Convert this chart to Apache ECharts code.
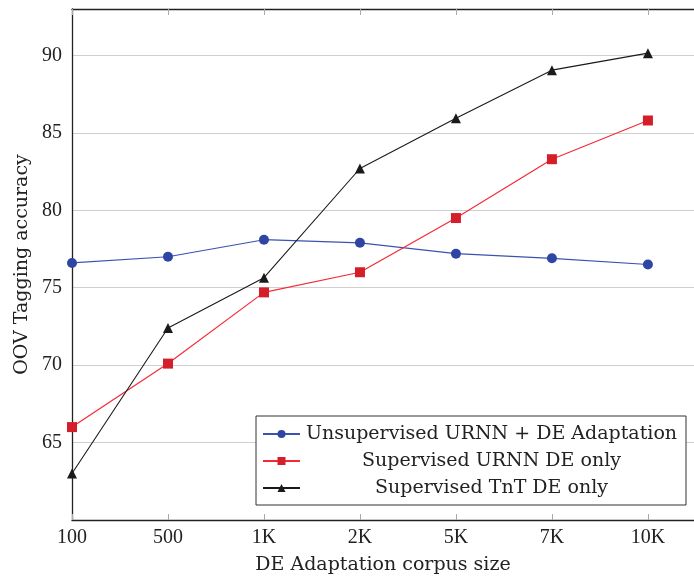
<!DOCTYPE html>
<html>
<head>
<meta charset="utf-8">
<script src="https://cdn.jsdelivr.net/npm/echarts@6/dist/echarts.min.js"></script>
<style>
  html, body { margin: 0; padding: 0; background: #fff; }
  #chart { width: 694px; height: 577px; }
</style>
</head>
<body>
<div id="chart"></div>
<script>
// corpus sizes on the x axis
var corpusSizes = ['100', '500', '1K', '2K', '5K', '7K', '10K'];

// OOV tagging accuracy for each setup
var unsupervisedURNN = [76.6, 77.0, 78.1, 77.9, 77.2, 76.9, 76.5];
var supervisedURNN = [66.0, 70.1, 74.7, 76.0, 79.5, 83.3, 85.8];
var supervisedTnT = [63.0, 72.4, 75.65, 82.7, 85.95, 89.05, 90.15];

var seriesNames = [
    'Unsupervised URNN + DE Adaptation',
    'Supervised URNN DE only',
    'Supervised TnT DE only'
];

function toPoints(vals) {
    return vals.map(function (v, i) { return [i, v]; });
}

var serif = '"Liberation Serif", serif';
var wideSerif = '"DejaVu Serif", serif';

var myChart = echarts.init(document.getElementById('chart'));

var option = {
    backgroundColor: '#fff',
    animation: false,
    grid: { left: 72, top: 9, right: 0, bottom: 57, outerBoundsMode: 'none' },
    legend: {
        orient: 'vertical',
        left: 256,
        top: 416,
        padding: [8, 8, 7, 6],
        itemGap: 7,
        itemWidth: 37,
        itemHeight: 10,
        borderColor: '#333',
        borderWidth: 1,
        backgroundColor: '#fff',
        data: seriesNames,
        formatter: function (name) { return '{t|' + name + '}'; },
        textStyle: {
            rich: {
                t: {
                    fontFamily: wideSerif,
                    fontSize: 19,
                    color: '#222',
                    width: 373,
                    align: 'center',
                    height: 20,
                    lineHeight: 20
                }
            }
        }
    },
    xAxis: [{
        type: 'value',
        min: 0,
        max: 6.48,
        interval: 1,
        name: 'DE Adaptation corpus size',
        nameLocation: 'middle',
        nameGap: 36,
        nameTextStyle: { fontFamily: wideSerif, fontSize: 19, color: '#222' },
        axisLine: { lineStyle: { color: '#222', width: 1.3 } },
        axisTick: { inside: true, length: 6, lineStyle: { color: '#aaa' } },
        axisLabel: {
            fontFamily: serif,
            fontSize: 20,
            color: '#222',
            margin: 8,
            showMaxLabel: false,
            formatter: function (v) {
                return corpusSizes[v] !== undefined && v === Math.round(v) ? corpusSizes[v] : '';
            }
        },
        splitLine: { show: false }
    }, {
        type: 'value',
        position: 'top',
        min: 0,
        max: 6.48,
        interval: 1,
        axisLine: { lineStyle: { color: '#222', width: 1.3 } },
        axisTick: { inside: true, length: 6, lineStyle: { color: '#aaa' } },
        axisLabel: { show: false },
        splitLine: { show: false }
    }],
    yAxis: {
        type: 'value',
        min: 60,
        max: 93,
        interval: 5,
        name: 'OOV Tagging accuracy',
        nameLocation: 'middle',
        nameGap: 40,
        nameTextStyle: { fontFamily: wideSerif, fontSize: 19, color: '#222' },
        axisLine: { show: true, lineStyle: { color: '#222', width: 1.3 } },
        axisTick: { show: false },
        axisLabel: {
            fontFamily: serif,
            fontSize: 20,
            color: '#222',
            margin: 10,
            formatter: function (v) {
                return (v >= 65 && v <= 90) ? v : '';
            }
        },
        splitLine: { lineStyle: { color: '#cfcfcf', width: 1.2 } }
    },
    series: [{
        name: seriesNames[0],
        type: 'line',
        data: toPoints(unsupervisedURNN),
        symbol: 'circle',
        symbolSize: 10,
        itemStyle: { color: '#2f45a3' },
        lineStyle: { color: '#3a52b0', width: 1.2 },
        z: 3
    }, {
        name: seriesNames[1],
        type: 'line',
        data: toPoints(supervisedURNN),
        symbol: 'rect',
        symbolSize: 10,
        itemStyle: { color: '#d41f2b' },
        lineStyle: { color: '#f52a35', width: 1.2 },
        z: 4
    }, {
        name: seriesNames[2],
        type: 'line',
        data: toPoints(supervisedTnT),
        symbol: 'triangle',
        symbolSize: 10,
        itemStyle: { color: '#1a1a1a' },
        lineStyle: { color: '#1a1a1a', width: 1.1 },
        z: 5
    }]
};

myChart.setOption(option);
</script>
</body>
</html>
